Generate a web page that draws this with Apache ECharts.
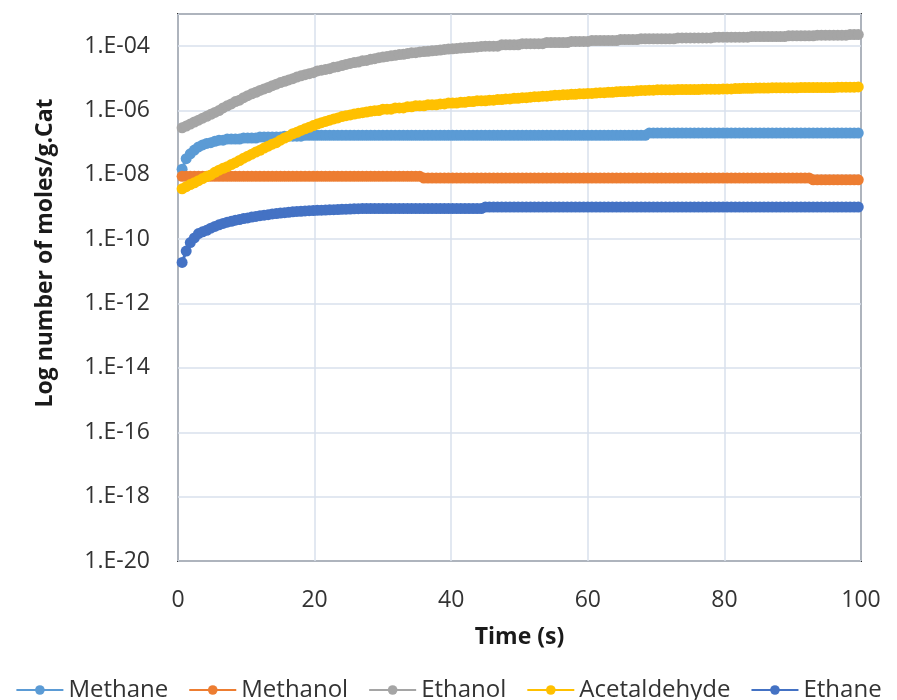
<!DOCTYPE html>
<html>
<head>
<meta charset="utf-8">
<script src="https://cdn.jsdelivr.net/npm/echarts@6/dist/echarts.min.js"></script>
<style>
  html, body { margin: 0; padding: 0; background: #ffffff; }
  #chart { width: 897px; height: 700px; }
</style>
</head>
<body>
<div id="chart"></div>
<script>
// Sampling times (s)
const timeS = [
  0.6,1.2,1.8,2.4,3, 3.6,4.2,4.8,5.4,6, 6.6,7.2,7.8,8.4,9, 9.6,10.2,10.8,11.4,12,
  12.6,13.2,13.8,14.4,15, 15.6,16.2,16.8,17.4,18, 18.6,19.2,19.8,20.4,21, 21.6,22.2,22.8,23.4,24,
  24.6,25.2,25.8,26.4,27, 27.6,28.2,28.8,29.4,30, 30.6,31.2,31.8,32.4,33, 33.6,34.2,34.8,35.4,36,
  36.6,37.2,37.8,38.4,39, 39.6,40.2,40.8,41.4,42, 42.6,43.2,43.8,44.4,45, 45.6,46.2,46.8,47.4,48,
  48.6,49.2,49.8,50.4,51, 51.6,52.2,52.8,53.4,54, 54.6,55.2,55.8,56.4,57, 57.6,58.2,58.8,59.4,60,
  60.6,61.2,61.8,62.4,63, 63.6,64.2,64.8,65.4,66, 66.6,67.2,67.8,68.4,69, 69.6,70.2,70.8,71.4,72,
  72.6,73.2,73.8,74.4,75, 75.6,76.2,76.8,77.4,78, 78.6,79.2,79.8,80.4,81, 81.6,82.2,82.8,83.4,84,
  84.6,85.2,85.8,86.4,87, 87.6,88.2,88.8,89.4,90, 90.6,91.2,91.8,92.4,93, 93.6,94.2,94.8,95.4,96,
  96.6,97.2,97.8,98.4,99, 99.6
];

// Moles per gram of catalyst
const methane = [
  1.5e-8,3.2e-8,4.5e-8,5.9e-8,7.4e-8, 8.5e-8,9.5e-8,1.0e-7,1.1e-7,1.2e-7, 1.2e-7,1.3e-7,1.3e-7,1.3e-7,1.3e-7, 1.4e-7,1.4e-7,1.4e-7,1.4e-7,1.5e-7,
  1.5e-7,1.5e-7,1.5e-7,1.5e-7,1.5e-7, 1.6e-7,1.6e-7,1.6e-7,1.6e-7,1.6e-7, 1.7e-7,1.7e-7,1.7e-7,1.7e-7,1.7e-7, 1.7e-7,1.7e-7,1.7e-7,1.7e-7,1.7e-7,
  1.7e-7,1.7e-7,1.7e-7,1.7e-7,1.7e-7, 1.7e-7,1.7e-7,1.7e-7,1.7e-7,1.7e-7, 1.7e-7,1.7e-7,1.7e-7,1.7e-7,1.7e-7, 1.7e-7,1.7e-7,1.7e-7,1.7e-7,1.7e-7,
  1.7e-7,1.7e-7,1.7e-7,1.7e-7,1.7e-7, 1.7e-7,1.7e-7,1.7e-7,1.7e-7,1.7e-7, 1.7e-7,1.7e-7,1.7e-7,1.7e-7,1.7e-7, 1.7e-7,1.7e-7,1.7e-7,1.7e-7,1.7e-7,
  1.7e-7,1.7e-7,1.7e-7,1.7e-7,1.7e-7, 1.7e-7,1.7e-7,1.7e-7,1.7e-7,1.7e-7, 1.7e-7,1.7e-7,1.7e-7,1.7e-7,1.7e-7, 1.7e-7,1.7e-7,1.7e-7,1.7e-7,1.7e-7,
  1.7e-7,1.7e-7,1.7e-7,1.7e-7,1.7e-7, 1.7e-7,1.7e-7,1.7e-7,1.7e-7,1.7e-7, 1.7e-7,1.7e-7,1.7e-7,1.7e-7,2.0e-7, 2.0e-7,2.0e-7,2.0e-7,2.0e-7,2.0e-7,
  2.0e-7,2.0e-7,2.0e-7,2.0e-7,2.0e-7, 2.0e-7,2.0e-7,2.0e-7,2.0e-7,2.0e-7, 2.0e-7,2.0e-7,2.0e-7,2.0e-7,2.0e-7, 2.0e-7,2.0e-7,2.0e-7,2.0e-7,2.0e-7,
  2.0e-7,2.0e-7,2.0e-7,2.0e-7,2.0e-7, 2.0e-7,2.0e-7,2.0e-7,2.0e-7,2.0e-7, 2.0e-7,2.0e-7,2.0e-7,2.0e-7,2.0e-7, 2.0e-7,2.0e-7,2.0e-7,2.0e-7,2.0e-7,
  2.0e-7,2.0e-7,2.0e-7,2.0e-7,2.0e-7, 2.0e-7
];

const methanol = [
  9.0e-9,9.0e-9,9.0e-9,9.0e-9,9.0e-9, 9.0e-9,9.0e-9,9.0e-9,9.0e-9,9.0e-9, 9.0e-9,9.0e-9,9.0e-9,9.0e-9,9.0e-9, 9.0e-9,9.0e-9,9.0e-9,9.0e-9,9.0e-9,
  9.0e-9,9.0e-9,9.0e-9,9.0e-9,9.0e-9, 9.0e-9,9.0e-9,9.0e-9,9.0e-9,9.0e-9, 9.0e-9,9.0e-9,9.0e-9,9.0e-9,9.0e-9, 9.0e-9,9.0e-9,9.0e-9,9.0e-9,9.0e-9,
  9.0e-9,9.0e-9,9.0e-9,9.0e-9,9.0e-9, 9.0e-9,9.0e-9,9.0e-9,9.0e-9,9.0e-9, 9.0e-9,9.0e-9,9.0e-9,9.0e-9,9.0e-9, 9.0e-9,9.0e-9,9.0e-9,9.0e-9,8.0e-9,
  8.0e-9,8.0e-9,8.0e-9,8.0e-9,8.0e-9, 8.0e-9,8.0e-9,8.0e-9,8.0e-9,8.0e-9, 8.0e-9,8.0e-9,8.0e-9,8.0e-9,8.0e-9, 8.0e-9,8.0e-9,8.0e-9,8.0e-9,8.0e-9,
  8.0e-9,8.0e-9,8.0e-9,8.0e-9,8.0e-9, 8.0e-9,8.0e-9,8.0e-9,8.0e-9,8.0e-9, 8.0e-9,8.0e-9,8.0e-9,8.0e-9,8.0e-9, 8.0e-9,8.0e-9,8.0e-9,8.0e-9,8.0e-9,
  8.0e-9,8.0e-9,8.0e-9,8.0e-9,8.0e-9, 8.0e-9,8.0e-9,8.0e-9,8.0e-9,8.0e-9, 8.0e-9,8.0e-9,8.0e-9,8.0e-9,8.0e-9, 8.0e-9,8.0e-9,8.0e-9,8.0e-9,8.0e-9,
  8.0e-9,8.0e-9,8.0e-9,8.0e-9,8.0e-9, 8.0e-9,8.0e-9,8.0e-9,8.0e-9,8.0e-9, 8.0e-9,8.0e-9,8.0e-9,8.0e-9,8.0e-9, 8.0e-9,8.0e-9,8.0e-9,8.0e-9,8.0e-9,
  8.0e-9,8.0e-9,8.0e-9,8.0e-9,8.0e-9, 8.0e-9,8.0e-9,8.0e-9,8.0e-9,8.0e-9, 8.0e-9,8.0e-9,8.0e-9,8.0e-9,7.0e-9, 7.0e-9,7.0e-9,7.0e-9,7.0e-9,7.0e-9,
  7.0e-9,7.0e-9,7.0e-9,7.0e-9,7.0e-9, 7.0e-9
];

const ethanol = [
  2.9e-7,3.3e-7,3.8e-7,4.4e-7,5.0e-7, 5.8e-7,6.6e-7,7.6e-7,8.7e-7,1.0e-6, 1.2e-6,1.4e-6,1.6e-6,1.9e-6,2.1e-6, 2.5e-6,2.9e-6,3.3e-6,3.7e-6,4.2e-6,
  4.7e-6,5.2e-6,5.9e-6,6.6e-6,7.4e-6, 8.1e-6,8.9e-6,9.8e-6,1.1e-5,1.2e-5, 1.3e-5,1.4e-5,1.5e-5,1.7e-5,1.8e-5, 1.9e-5,2.0e-5,2.2e-5,2.3e-5,2.5e-5,
  2.7e-5,2.9e-5,3.1e-5,3.2e-5,3.5e-5, 3.6e-5,3.9e-5,4.1e-5,4.4e-5,4.6e-5, 4.8e-5,5.0e-5,5.2e-5,5.5e-5,5.6e-5, 5.9e-5,6.2e-5,6.3e-5,6.6e-5,6.8e-5,
  6.9e-5,7.2e-5,7.4e-5,7.6e-5,7.9e-5, 8.1e-5,8.3e-5,8.5e-5,8.7e-5,8.9e-5, 9.1e-5,9.3e-5,9.5e-5,9.8e-5,1.0e-4, 1.0e-4,1.0e-4,1.0e-4,1.1e-4,1.1e-4,
  1.1e-4,1.1e-4,1.1e-4,1.2e-4,1.2e-4, 1.2e-4,1.2e-4,1.2e-4,1.2e-4,1.3e-4, 1.3e-4,1.3e-4,1.3e-4,1.3e-4,1.3e-4, 1.4e-4,1.4e-4,1.4e-4,1.4e-4,1.4e-4,
  1.5e-4,1.5e-4,1.5e-4,1.5e-4,1.5e-4, 1.5e-4,1.5e-4,1.6e-4,1.6e-4,1.6e-4, 1.6e-4,1.6e-4,1.7e-4,1.7e-4,1.7e-4, 1.7e-4,1.7e-4,1.7e-4,1.7e-4,1.7e-4,
  1.7e-4,1.8e-4,1.8e-4,1.8e-4,1.8e-4, 1.8e-4,1.8e-4,1.8e-4,1.8e-4,1.8e-4, 1.9e-4,1.9e-4,1.9e-4,1.9e-4,1.9e-4, 1.9e-4,1.9e-4,1.9e-4,1.9e-4,2.0e-4,
  2.0e-4,2.0e-4,2.0e-4,2.0e-4,2.0e-4, 2.0e-4,2.0e-4,2.0e-4,2.1e-4,2.1e-4, 2.1e-4,2.1e-4,2.1e-4,2.1e-4,2.1e-4, 2.2e-4,2.2e-4,2.2e-4,2.2e-4,2.2e-4,
  2.2e-4,2.2e-4,2.2e-4,2.3e-4,2.3e-4, 2.3e-4
];

const acetaldehyde = [
  3.7e-9,4.3e-9,5.0e-9,5.7e-9,6.6e-9, 7.7e-9,8.9e-9,1.0e-8,1.2e-8,1.4e-8, 1.6e-8,1.8e-8,2.1e-8,2.4e-8,2.8e-8, 3.3e-8,3.8e-8,4.4e-8,5.1e-8,5.8e-8,
  6.8e-8,7.8e-8,9.0e-8,1.0e-7,1.2e-7, 1.4e-7,1.6e-7,1.9e-7,2.1e-7,2.4e-7, 2.7e-7,3.0e-7,3.4e-7,3.8e-7,4.2e-7, 4.6e-7,5.0e-7,5.5e-7,5.9e-7,6.5e-7,
  6.9e-7,7.3e-7,7.8e-7,8.2e-7,8.6e-7, 9.0e-7,9.5e-7,9.9e-7,1.0e-6,1.1e-6, 1.1e-6,1.1e-6,1.2e-6,1.2e-6,1.2e-6, 1.3e-6,1.3e-6,1.4e-6,1.4e-6,1.4e-6,
  1.5e-6,1.5e-6,1.5e-6,1.6e-6,1.6e-6, 1.7e-6,1.7e-6,1.7e-6,1.8e-6,1.8e-6, 1.9e-6,1.9e-6,2.0e-6,2.0e-6,2.0e-6, 2.1e-6,2.1e-6,2.2e-6,2.2e-6,2.3e-6,
  2.3e-6,2.4e-6,2.4e-6,2.5e-6,2.5e-6, 2.6e-6,2.7e-6,2.7e-6,2.8e-6,2.8e-6, 2.9e-6,3.0e-6,3.0e-6,3.1e-6,3.1e-6, 3.2e-6,3.2e-6,3.3e-6,3.3e-6,3.4e-6,
  3.4e-6,3.5e-6,3.6e-6,3.6e-6,3.7e-6, 3.7e-6,3.8e-6,3.9e-6,3.9e-6,4.0e-6, 4.0e-6,4.1e-6,4.2e-6,4.2e-6,4.3e-6, 4.3e-6,4.4e-6,4.4e-6,4.4e-6,4.4e-6,
  4.4e-6,4.5e-6,4.5e-6,4.5e-6,4.5e-6, 4.5e-6,4.5e-6,4.6e-6,4.6e-6,4.6e-6, 4.6e-6,4.6e-6,4.7e-6,4.7e-6,4.7e-6, 4.8e-6,4.8e-6,4.9e-6,4.9e-6,4.9e-6,
  5.0e-6,5.0e-6,5.0e-6,5.0e-6,5.1e-6, 5.1e-6,5.1e-6,5.1e-6,5.1e-6,5.1e-6, 5.1e-6,5.2e-6,5.2e-6,5.2e-6,5.2e-6, 5.2e-6,5.2e-6,5.2e-6,5.2e-6,5.2e-6,
  5.3e-6,5.3e-6,5.3e-6,5.3e-6,5.3e-6, 5.4e-6
];

const ethane = [
  1.9e-11,4.3e-11,7.9e-11,1.1e-10,1.5e-10, 1.7e-10,1.9e-10,2.2e-10,2.5e-10,2.8e-10, 3.1e-10,3.4e-10,3.6e-10,3.9e-10,4.1e-10, 4.4e-10,4.6e-10,4.9e-10,5.1e-10,5.4e-10,
  5.6e-10,5.8e-10,6.1e-10,6.3e-10,6.5e-10, 6.7e-10,6.9e-10,7.1e-10,7.3e-10,7.4e-10, 7.6e-10,7.7e-10,7.8e-10,7.9e-10,8.0e-10, 8.1e-10,8.2e-10,8.3e-10,8.4e-10,8.5e-10,
  8.6e-10,8.7e-10,8.8e-10,8.9e-10,9.0e-10, 9.0e-10,9.0e-10,9.0e-10,9.0e-10,9.0e-10, 9.0e-10,9.0e-10,9.0e-10,9.0e-10,9.0e-10, 9.0e-10,9.0e-10,9.0e-10,9.0e-10,9.0e-10,
  9.0e-10,9.0e-10,9.0e-10,9.0e-10,9.0e-10, 9.0e-10,9.0e-10,9.0e-10,9.0e-10,9.0e-10, 9.0e-10,9.0e-10,9.0e-10,9.0e-10,1.0e-9, 1.0e-9,1.0e-9,1.0e-9,1.0e-9,1.0e-9,
  1.0e-9,1.0e-9,1.0e-9,1.0e-9,1.0e-9, 1.0e-9,1.0e-9,1.0e-9,1.0e-9,1.0e-9, 1.0e-9,1.0e-9,1.0e-9,1.0e-9,1.0e-9, 1.0e-9,1.0e-9,1.0e-9,1.0e-9,1.0e-9,
  1.0e-9,1.0e-9,1.0e-9,1.0e-9,1.0e-9, 1.0e-9,1.0e-9,1.0e-9,1.0e-9,1.0e-9, 1.0e-9,1.0e-9,1.0e-9,1.0e-9,1.0e-9, 1.0e-9,1.0e-9,1.0e-9,1.0e-9,1.0e-9,
  1.0e-9,1.0e-9,1.0e-9,1.0e-9,1.0e-9, 1.0e-9,1.0e-9,1.0e-9,1.0e-9,1.0e-9, 1.0e-9,1.0e-9,1.0e-9,1.0e-9,1.0e-9, 1.0e-9,1.0e-9,1.0e-9,1.0e-9,1.0e-9,
  1.0e-9,1.0e-9,1.0e-9,1.0e-9,1.0e-9, 1.0e-9,1.0e-9,1.0e-9,1.0e-9,1.0e-9, 1.0e-9,1.0e-9,1.0e-9,1.0e-9,1.0e-9, 1.0e-9,1.0e-9,1.0e-9,1.0e-9,1.0e-9,
  1.0e-9,1.0e-9,1.0e-9,1.0e-9,1.0e-9, 1.0e-9
];

const seriesNames = ['Methane', 'Methanol', 'Ethanol', 'Acetaldehyde', 'Ethane'];
const seriesValues = [methane, methanol, ethanol, acetaldehyde, ethane];
const seriesColors = ['#5B9BD5', '#ED7D31', '#A5A5A5', '#FFC000', '#4472C4'];

const xTitle = 'Time (s)';
const yTitle = 'Log number of moles/g.Cat';

const FONT = '"Open Sans", "Noto Sans", sans-serif';
const GRID_COLOR = '#d9e1ec';

// Excel-style scientific label: 1.E-04
function sciLabel(v) {
  const e = Math.round(Math.log10(v));
  const sign = e < 0 ? '-' : '+';
  const digits = String(Math.abs(e)).padStart(2, '0');
  return '1.E' + sign + digits;
}

const chart = echarts.init(document.getElementById('chart'), null, { renderer: 'canvas' });

const option = {
  animation: false,
  backgroundColor: '#ffffff',
  grid: {
    left: 178, right: 36, top: 14, bottom: 139,
    show: true,
    borderColor: '#333333',
    borderWidth: 2,
    backgroundColor: 'transparent'
  },
  xAxis: {
    type: 'value',
    min: 0, max: 100, interval: 20,
    name: xTitle,
    nameLocation: 'middle',
    nameGap: 65,
    nameTextStyle: { fontFamily: FONT, fontSize: 23, fontWeight: 'bold', color: '#1a1a1a' },
    axisLine: { show: false },
    axisTick: { show: false },
    axisLabel: { fontFamily: FONT, fontSize: 23, color: '#333333', margin: 28 },
    splitLine: { show: true, lineStyle: { color: GRID_COLOR, width: 1.5 } }
  },
  yAxis: {
    type: 'log',
    logBase: 10,
    min: 1e-20, max: 1e-3,
    interval: 2,
    axisLine: { show: false },
    axisTick: { show: false },
    minorTick: { show: false },
    axisLabel: {
      fontFamily: FONT, fontSize: 23, color: '#333333', margin: 28,
      showMaxLabel: false,
      formatter: sciLabel
    },
    splitLine: { show: true, lineStyle: { color: GRID_COLOR, width: 1.5 } }
  },
  legend: {
    data: seriesNames,
    left: 'center',
    top: 673,
    itemWidth: 47,
    itemHeight: 12,
    itemGap: 20,
    textStyle: { fontFamily: FONT, fontSize: 24, color: '#333333' }
  },
  graphic: [{
    type: 'text',
    x: 45, y: 253,
    rotation: Math.PI / 2,
    style: {
      text: yTitle,
      x: 0, y: 0,
      align: 'center',
      verticalAlign: 'middle',
      fontFamily: FONT,
      fontSize: 23,
      fontWeight: 'bold',
      fill: '#1a1a1a'
    }
  }],
  series: seriesNames.map((name, k) => ({
    name: name,
    type: 'line',
    data: timeS.map((t, i) => [t, seriesValues[k][i]]),
    symbol: 'circle',
    symbolSize: 11,
    showSymbol: true,
    lineStyle: { color: seriesColors[k], width: 3 },
    itemStyle: { color: seriesColors[k] },
    emphasis: { disabled: true }
  }))
};

chart.setOption(option);
</script>
</body>
</html>
